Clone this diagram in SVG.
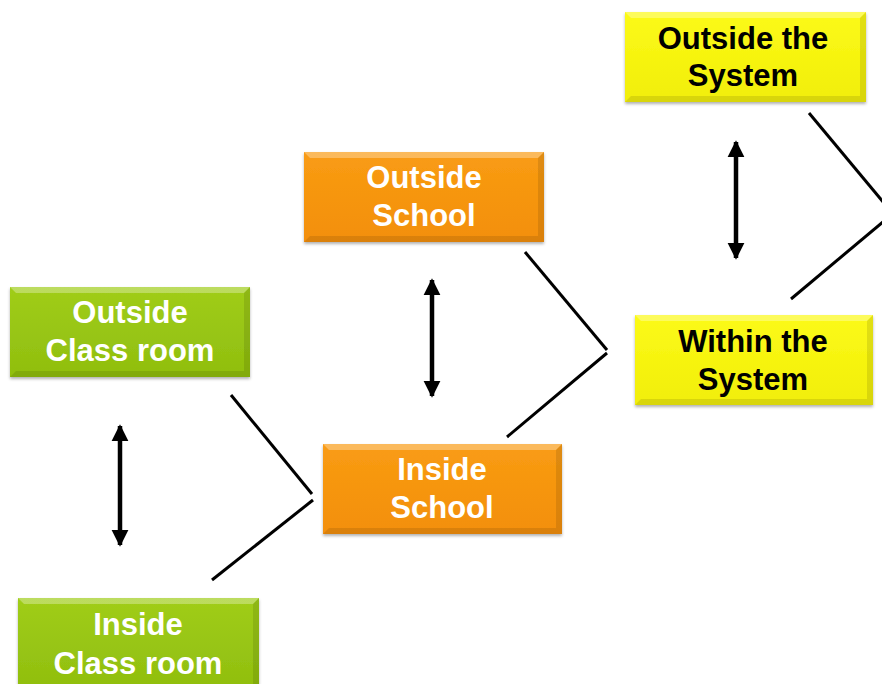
<svg xmlns="http://www.w3.org/2000/svg" width="882" height="684" viewBox="0 0 882 684">
<defs>
<linearGradient id="gGreen" x1="0" y1="0" x2="0" y2="1"><stop offset="0" stop-color="#a0cd1a"/><stop offset="1" stop-color="#90be0e"/></linearGradient>
<linearGradient id="gOrange" x1="0" y1="0" x2="0" y2="1"><stop offset="0" stop-color="#f99c14"/><stop offset="1" stop-color="#f38f08"/></linearGradient>
<linearGradient id="gYellow" x1="0" y1="0" x2="0" y2="1"><stop offset="0" stop-color="#fcfa18"/><stop offset="1" stop-color="#f1ee08"/></linearGradient>
<filter id="sh" x="-5%" y="-5%" width="110%" height="120%"><feDropShadow dx="0" dy="2" stdDeviation="1.5" flood-color="#000" flood-opacity="0.3"/></filter>
<marker id="ah" viewBox="0 0 10 10" refX="9" refY="5" markerWidth="3.8" markerHeight="3.8" orient="auto-start-reverse"><path d="M0,0 L10,5 L0,10 Z" fill="#000"/></marker>
</defs>
<style>
.lbl{font-family:"Liberation Sans",Arial,sans-serif;font-weight:bold;font-size:31px;text-anchor:middle}
.w{fill:#fff}
.k{fill:#000}
.hi{fill:#fff;opacity:0.3}
.lo{fill:#000;opacity:0.1}
.conn line{stroke:#000;stroke-width:3;fill:none}
.conn .dbl{stroke-width:4.5}
</style>
<rect width="882" height="684" fill="#fff"/>

<g id="outside-classroom">
<rect x="10" y="287" width="240" height="90" fill="url(#gGreen)" filter="url(#sh)"/>
<polygon points="10,287 250,287 244,293 16,293" class="hi"/>
<polygon points="10,377 250,377 244,371 16,371" class="lo"/>
<polygon points="250,287 250,377 244,371 244,293" class="lo"/>
<text class="lbl w" x="130" y="323">Outside</text>
<text class="lbl w" x="130" y="361">Class room</text>
</g>

<g id="inside-classroom">
<rect x="18" y="598" width="241" height="92" fill="url(#gGreen)" filter="url(#sh)"/>
<polygon points="18,598 259,598 253,604 24,604" class="hi"/>
<polygon points="259,598 259,690 253,684 253,604" class="lo"/>
<text class="lbl w" x="138" y="635">Inside</text>
<text class="lbl w" x="138" y="674">Class room</text>
</g>

<g id="outside-school">
<rect x="304" y="152" width="240" height="90" fill="url(#gOrange)" filter="url(#sh)"/>
<polygon points="304,152 544,152 538,158 310,158" class="hi"/>
<polygon points="304,242 544,242 538,236 310,236" class="lo"/>
<polygon points="544,152 544,242 538,236 538,158" class="lo"/>
<text class="lbl w" x="424" y="188">Outside</text>
<text class="lbl w" x="424" y="226">School</text>
</g>

<g id="inside-school">
<rect x="323" y="444" width="239" height="90" fill="url(#gOrange)" filter="url(#sh)"/>
<polygon points="323,444 562,444 556,450 329,450" class="hi"/>
<polygon points="323,534 562,534 556,528 329,528" class="lo"/>
<polygon points="562,444 562,534 556,528 556,450" class="lo"/>
<text class="lbl w" x="442" y="480">Inside</text>
<text class="lbl w" x="442" y="518">School</text>
</g>

<g id="outside-system">
<rect x="625" y="12" width="241" height="90" fill="url(#gYellow)" filter="url(#sh)"/>
<polygon points="625,12 866,12 860,18 631,18" class="hi"/>
<polygon points="625,102 866,102 860,96 631,96" class="lo"/>
<polygon points="866,12 866,102 860,96 860,18" class="lo"/>
<text class="lbl k" x="743" y="49">Outside the</text>
<text class="lbl k" x="743" y="86">System</text>
</g>

<g id="within-system">
<rect x="635" y="315" width="238" height="90" fill="url(#gYellow)" filter="url(#sh)"/>
<polygon points="635,315 873,315 867,321 641,321" class="hi"/>
<polygon points="635,405 873,405 867,399 641,399" class="lo"/>
<polygon points="873,315 873,405 867,399 867,321" class="lo"/>
<text class="lbl k" x="753" y="352">Within the</text>
<text class="lbl k" x="753" y="390">System</text>
</g>

<g id="connectors" class="conn">
<line class="dbl" x1="120" y1="426" x2="120" y2="545" marker-start="url(#ah)" marker-end="url(#ah)"/>
<line class="dbl" x1="432" y1="280" x2="432" y2="396" marker-start="url(#ah)" marker-end="url(#ah)"/>
<line class="dbl" x1="736" y1="142" x2="736" y2="258" marker-start="url(#ah)" marker-end="url(#ah)"/>
<line x1="231" y1="395" x2="312" y2="494"/>
<line x1="313" y1="500" x2="212" y2="580"/>
<line x1="525" y1="252" x2="607" y2="350"/>
<line x1="607" y1="353" x2="507" y2="437"/>
<line x1="809" y1="113" x2="884" y2="203"/>
<line x1="884" y1="221" x2="791" y2="299"/>
</g>
</svg>
